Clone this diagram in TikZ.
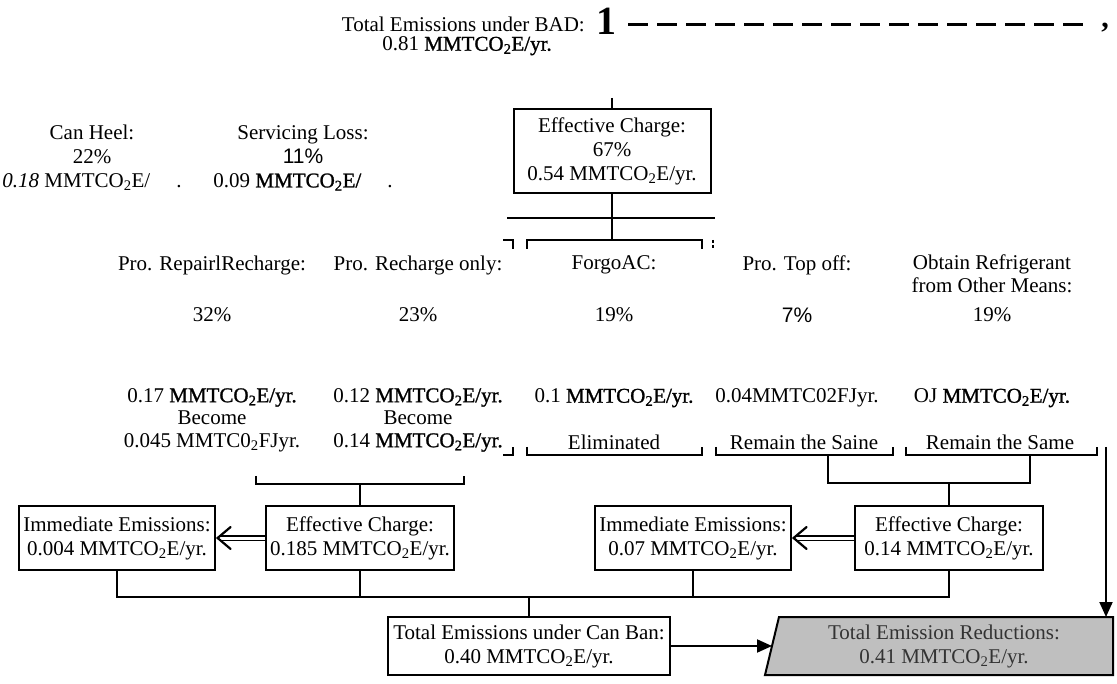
\documentclass[tikz,border=0pt]{standalone}
\usepackage{fontspec}
\setmainfont{Liberation Serif}
\newfontfamily\hv[FakeBold=1.2]{Liberation Serif}
\newfontfamily\sansf{Liberation Sans}
\usetikzlibrary{arrows.meta}
\newcommand{\mtb}{{\hv MMTCO\textsubscript{2}E/yr.}}
\newcommand{\mtr}{MMTCO\textsubscript{2}E/yr.}
\begin{document}
\begin{tikzpicture}[x=1pt,y=-1pt,
  every node/.style={font=\fontsize{21}{24}\selectfont, inner sep=0pt, align=center},
  box/.style={draw, line width=2pt, inner sep=4pt, minimum height=64pt},
  ln/.style={line width=1.8pt},
  dbl/.style={double, double distance=3pt, line width=1.3pt},
  chev/.style={line width=2.2pt, line cap=round},
  arr/.style={line width=2pt, -{Triangle[length=15pt,width=13pt]}},
  tight/.style={font=\fontsize{21}{22.5}\selectfont}]
\useasboundingbox (0,0) rectangle (1117,684);

% top
\node[anchor=east] (bad) at (585,24) {Total Emissions under BAD:};
\node (one) at (606,21) {\fontsize{40}{40}\selectfont\bfseries 1};
\node (bad2) at (467,46) {0.81 \mtb};
\coordinate (dashS) at (628,25);
\coordinate (dashE) at (1090,25);
\draw[line width=3pt, dash pattern=on 20pt off 9pt] (dashS) -- (dashE);
\node (comma) at (1105,28) {\fontsize{30}{30}\selectfont\bfseries ,};

% first level
\node (ch) at (92,158) {Can Heel:\\22\%\\{\itshape 0.18} MMTCO\textsubscript{2}E/\hspace{26pt}.};
\node (sl) at (303,158) {Servicing Loss:\\{\sansf 11\%}\\0.09 {\hv MMTCO\textsubscript{2}E/}\hspace{26pt}.};
\node[box, minimum width=197pt, minimum height=84pt] (ec) at (612,151) {Effective Charge:\\67\%\\0.54 \mtr};
\coordinate (ecin) at (612,98);
\draw[ln] (ecin) -- (ec.north);
\coordinate (b3) at (612,240);
\draw[ln] (ec.south) -- (b3);
\draw[ln] (507,218) -- (715,218);
\draw[ln] (527,249) -- (527,240) -- (702,240) -- (702,249);
\draw[ln] (503,240) -- (513,240) -- (513,249);
\draw[ln, dash pattern=on 3pt off 2pt] (713,240) -- (713,250);

% second level labels
\node (l1) at (212,265) {Pro. RepairlRecharge:};
\node (l2) at (418,265) {Pro. Recharge only:};
\node (l3) at (614,265) {ForgoAC:};
\node (l4) at (797,265) {Pro. Top off:};
\node[tight] (l5) at (992,274) {Obtain Refrigerant\\from Other Means:};
\node (p1) at (212,315) {32\%};
\node (p2) at (418,315) {23\%};
\node (p3) at (614,315) {19\%};
\node (p4) at (797,315) {{\sansf 7\%}};
\node (p5) at (992,315) {19\%};

\node[tight] (v1) at (212,420) {0.17 \mtb\\Become\\0.045 MMTC0\textsubscript{2}FJyr.};
\node[tight] (v2) at (418,420) {0.12 \mtb\\Become\\0.14 \mtb};
\node (v3) at (614,398) {0.1 \mtb};
\node (v4) at (797,398) {0.04MMTC02FJyr.};
\node (v5) at (992,398) {OJ \mtb};
\node (e3) at (614,442) {Eliminated};
\node (e4) at (804,442) {Remain the Saine};
\node (e5) at (1000,442) {Remain the Same};

% brackets under outcomes
\draw[ln] (503,455) -- (513,455) -- (513,447);
\draw[ln] (527,447) -- (527,455) -- (702,455) -- (702,447);
\draw[ln] (716,447) -- (716,455) -- (893,455) -- (893,447);
\draw[ln] (906,447) -- (906,455) -- (1097,455) -- (1097,447);

% bottom boxes
\node[box, minimum width=192pt] (lim) at (117,538) {Immediate Emissions:\\0.004 \mtr};
\node[box, minimum width=188pt] (lec) at (360,538) {Effective Charge:\\0.185 \mtr};
\node[box, minimum width=190pt] (rim) at (693,538) {Immediate Emissions:\\0.07 \mtr};
\node[box, minimum width=188pt] (rec) at (949,538) {Effective Charge:\\0.14 \mtr};

\draw[ln] (256,476) -- (256,484) -- (464,484) -- (464,476);
\draw[ln] (lec.north |- 0,484) -- (lec.north);
\draw[ln] (828,455) -- (828,483) -- (1030,483) -- (1030,455);
\draw[ln] (rec.north |- 0,483) -- (rec.north);

% double arrows with open chevron heads
\draw[dbl] (lec.west) -- ([xshift=4pt]lim.east);
\draw[chev] ([shift={(15,-11)}]lim.east) -- ([xshift=2pt]lim.east) -- ([shift={(15,11)}]lim.east);
\draw[dbl] (rec.west) -- ([xshift=4pt]rim.east);
\draw[chev] ([shift={(15,-11)}]rim.east) -- ([xshift=2pt]rim.east) -- ([shift={(15,11)}]rim.east);

\coordinate (j) at (529,597);
\draw[ln] (lim.south) |- (j) -| (rec.south);
\draw[ln] (lec.south) -- (lec.south |- j);
\draw[ln] (rim.south) -- (rim.south |- j);

\node[box, minimum width=282pt, minimum height=58pt] (cb) at (529,646) {Total Emissions under Can Ban:\\0.40 \mtr};
\draw[ln] (j) -- (cb.north);

\draw[line width=2pt, fill=black!25] (765,675) -- (779,617) -- (1113,617) -- (1113,675) -- cycle;
\node[text=black!80] (tr) at (944,646) {Total Emission Reductions:\\0.41 \mtr};
\coordinate (trl) at (772,646);
\coordinate (trt) at (1106,617);
\coordinate (rv) at (1106,447);
\draw[arr] (cb.east) -- (trl);
\draw[arr] (rv) -- (trt);
\end{tikzpicture}
\end{document}
